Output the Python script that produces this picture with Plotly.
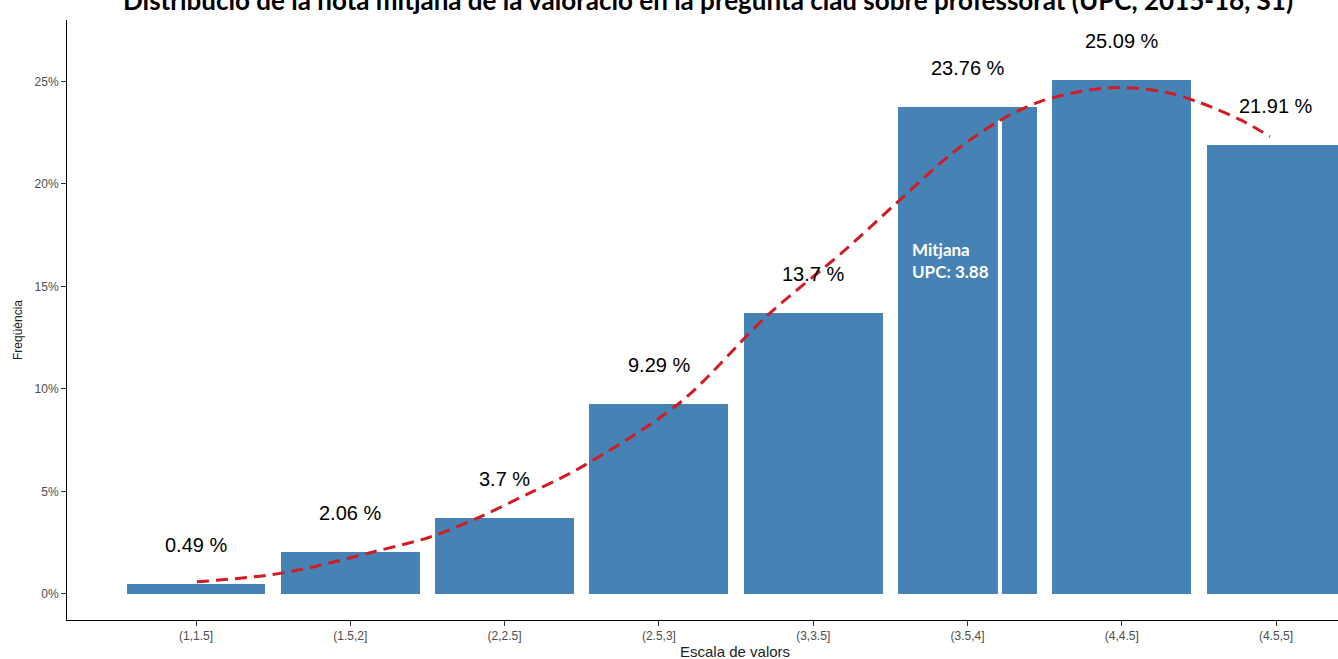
import plotly.graph_objects as go

# ---- data ----
categories = ["(1,1.5]", "(1.5,2]", "(2,2.5]", "(2.5,3]", "(3,3.5]", "(3.5,4]", "(4,4.5]", "(4.5,5]"]
bin_centers = [1.25, 1.75, 2.25, 2.75, 3.25, 3.75, 4.25, 4.75]
freq_pct = [0.49, 2.06, 3.7, 9.29, 13.7, 23.76, 25.09, 21.91]
y_ticks = [0, 5, 10, 15, 20, 25]
y_tick_labels = ["0%", "5%", "10%", "15%", "20%", "25%"]

# density-like fitted curve (score, %)
curve_x = [1.253, 1.490, 1.629, 1.824, 2.009, 2.148, 2.332, 2.494, 2.818, 3.100,
           3.347, 3.525, 3.703, 3.855, 3.985, 4.115, 4.244, 4.396, 4.503, 4.633, 4.730]
curve_y = [0.59, 0.93, 1.32, 2.05, 2.78, 3.61, 4.93, 6.15, 9.33, 13.57,
           16.70, 19.14, 21.53, 23.10, 24.02, 24.51, 24.71, 24.46, 23.97, 23.14, 22.31]

mean_value = 3.88
mean_line_x = 3.855
mean_line_top = 23.10

title_text = "Distribució de la nota mitjana de la valoració en la pregunta clau sobre professorat (UPC, 2015-16, S1)"

fig = go.Figure()

fig.add_trace(go.Bar(
    x=bin_centers, y=freq_pct, width=0.45,
    marker=dict(color="#4682B4", line=dict(width=0)),
    showlegend=False, hoverinfo="skip",
))

fig.add_trace(go.Scatter(
    x=[mean_line_x, mean_line_x], y=[0, mean_line_top], mode="lines",
    line=dict(color="white", width=4), showlegend=False, hoverinfo="skip",
))

fig.add_trace(go.Scatter(
    x=curve_x, y=curve_y, mode="lines", line_shape="spline",
    line=dict(color="#D01C23", width=3, dash="12px,7px", smoothing=0.9),
    showlegend=False, hoverinfo="skip",
))

for xc, v in zip(bin_centers, freq_pct):
    fig.add_annotation(
        x=xc, y=v, text=f"{v} %", showarrow=False, yshift=39,
        xanchor="center", yanchor="middle",
        font=dict(family="Liberation Sans, Arial", size=20, color="black"),
    )

fig.add_annotation(
    x=3.564, y=16.26, text=f"Mitjana<br>UPC: {mean_value}", showarrow=False,
    xanchor="left", yanchor="middle", align="left",
    font=dict(family="Lato", size=17, color="white", weight="bold"),
)

# title (partially cut at top like reference)
fig.add_annotation(
    xref="paper", yref="paper", x=(708 - 67) / 1271, y=(620 - 0) / 600,
    text=f"<b>{title_text}</b>", showarrow=False, xanchor="center", yanchor="middle",
    font=dict(family="Lato", size=26, color="black"),
)

# axis titles
fig.add_annotation(
    xref="paper", yref="paper", x=(735 - 67) / 1271, y=-(652 - 620) / 600,
    text="Escala de valors", showarrow=False, xanchor="center", yanchor="middle",
    font=dict(family="Liberation Sans, Arial", size=15, color="#222222"),
)
fig.add_annotation(
    xref="paper", yref="paper", x=-(67 - 18) / 1271, y=(620 - 330) / 600,
    text="Freqüència", textangle=-90, showarrow=False, xanchor="center", yanchor="middle",
    font=dict(family="Liberation Sans, Arial", size=12, color="#222222"),
)

fig.update_layout(
    width=1338, height=659,
    margin=dict(l=67, r=0, t=20, b=39),
    plot_bgcolor="white", paper_bgcolor="white",
    bargap=0,
    xaxis=dict(
        range=[0.832, 4.9505], tickmode="array", tickvals=bin_centers, ticktext=categories,
        showline=True, linecolor="black", linewidth=1, ticks="outside", ticklen=5,
        tickcolor="#333333", tickfont=dict(family="Liberation Sans, Arial", size=12, color="#4D4D4D"),
        showgrid=False, zeroline=False, fixedrange=True,
    ),
    yaxis=dict(
        range=[-1.27, 28.0], tickmode="array", tickvals=y_ticks, ticktext=y_tick_labels,
        showline=True, linecolor="black", linewidth=1, ticks="outside", ticklen=5,
        tickcolor="#333333", tickfont=dict(family="Liberation Sans, Arial", size=12, color="#4D4D4D"),
        showgrid=False, zeroline=False, fixedrange=True,
    ),
)

fig.write_html("out.html", config={"displayModeBar": False},
               post_script="document.body.style.margin='0';")
